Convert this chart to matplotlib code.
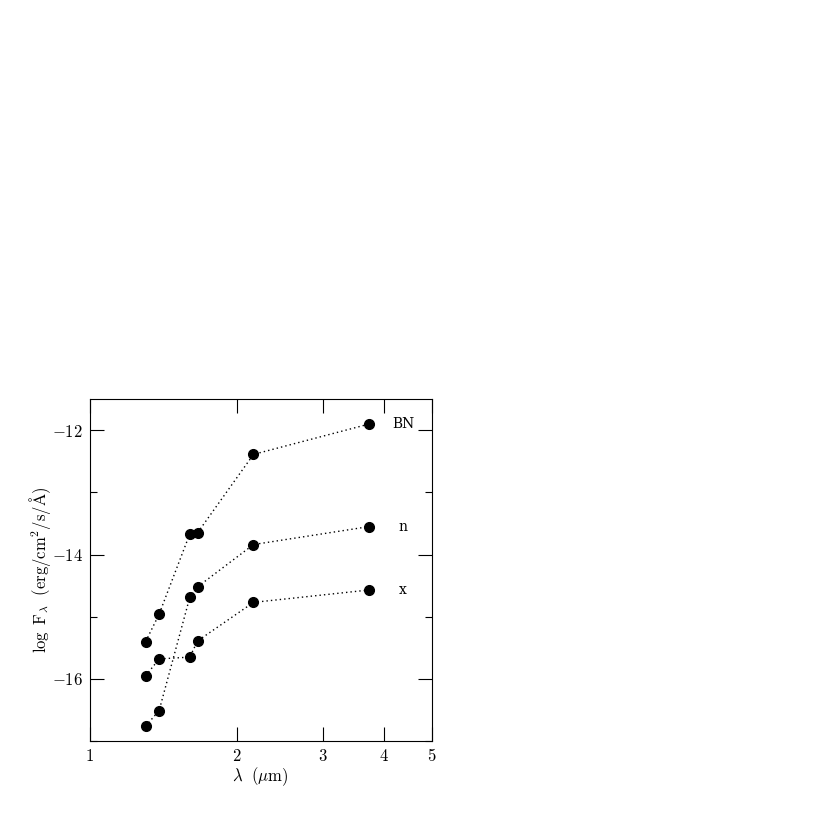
import matplotlib
matplotlib.use('Agg')
import matplotlib.pyplot as plt
from matplotlib.ticker import FixedLocator, NullLocator, MultipleLocator

plt.rcParams['font.family'] = ['DejaVu Serif']
plt.rcParams['mathtext.fontset'] = 'cm'

# wavelengths (micron) of the photometric points
wavelength = [1.30, 1.385, 1.60, 1.66, 2.16, 3.73]

# log F_lambda for each source
bn_flux = [-15.40, -14.96, -13.67, -13.65, -12.39, -11.90]
n_flux = [-16.76, -16.51, -14.69, -14.52, -13.84, -13.55]
x_flux = [-15.95, -15.68, -15.65, -15.39, -14.77, -14.57]

names = ['BN', 'n', 'x']
label_x = 4.37

fig = plt.figure(figsize=(8.3, 8.3), dpi=100)
ax = fig.add_axes([0.1084, 0.1072, 0.4117, 0.412])

for flux, name in zip([bn_flux, n_flux, x_flux], names):
    ax.plot(wavelength, flux, color='black', linewidth=1.0,
            linestyle=(0, (1, 2.2)),
            marker='o', markersize=7, markerfacecolor='black',
            markeredgecolor='black')
    ax.text(label_x, flux[-1], name, ha='center', va='center',
            fontsize=10, family='DejaVu Serif')

ax.set_xscale('log')
ax.set_xlim(1, 5)
ax.set_ylim(-17, -11.5)

ax.xaxis.set_major_locator(FixedLocator([1, 2, 3, 4, 5]))
ax.xaxis.set_minor_locator(NullLocator())
ax.set_xticklabels(['$1$', '$2$', '$3$', '$4$', '$5$'])
ax.yaxis.set_major_locator(MultipleLocator(2))
ax.yaxis.set_minor_locator(MultipleLocator(1))
ax.set_yticks([-16, -14, -12])
ax.set_yticklabels(['$-16$', '$-14$', '$-12$'])

ax.tick_params(which='both', direction='in', top=True, right=True,
               width=0.8, labelsize=12)
ax.tick_params(which='major', length=10, pad=5)
ax.tick_params(which='minor', length=5)
for s in ax.spines.values():
    s.set_linewidth(0.8)

ax.set_xlabel(r'$\lambda\ \ (\mu\mathrm{m})$', fontsize=12, labelpad=0)
ax.set_ylabel(r'$\log\ \mathrm{F}_\lambda\ \ (\mathrm{erg/cm^2/s/\AA})$',
              fontsize=12, labelpad=-1)

fig.savefig('out.png', dpi=100)
